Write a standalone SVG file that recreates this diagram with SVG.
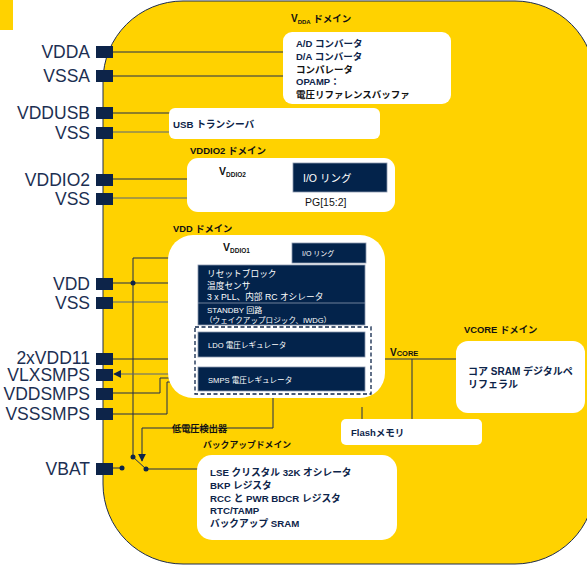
<svg xmlns="http://www.w3.org/2000/svg" width="587" height="565" viewBox="0 0 587 565">
<defs>
<style>
.pin{fill:#0d2449}
.plab{font-family:"Liberation Sans","Noto Sans CJK JP",sans-serif;font-size:17.5px;fill:#1c2f52;text-anchor:end}
.ln{stroke:#1e2d4f;stroke-width:1;fill:none}
.lg{stroke:#55647f;stroke-width:1;fill:none}
.wbox{fill:#ffffff}
.dbox{fill:#03234b;stroke:#8a97ad;stroke-width:0.8}
.b{font-family:"Liberation Sans","Noto Sans CJK JP",sans-serif;font-weight:bold;fill:#0d2449}
.t{font-family:"Liberation Sans","Noto Sans CJK JP",sans-serif;font-weight:bold;fill:#111111}
.w{font-family:"Liberation Sans","Noto Sans CJK JP",sans-serif;fill:#ffffff}
.dot{fill:#0d2449}
</style>
<marker id="ah" viewBox="0 0 10 10" refX="9" refY="5" markerWidth="8" markerHeight="8" markerUnits="userSpaceOnUse" orient="auto">
<path d="M0,0 L10,5 L0,10 z" fill="#0d2449"/>
</marker>
</defs>

<rect x="0" y="0" width="13" height="30" fill="#FFD200"/>

<g id="chip">
<rect x="103" y="1" width="492" height="563" rx="80" ry="80" fill="#FFD200" stroke="#1e2d4f" stroke-width="1"/>
</g>

<g id="connectors">
<line class="ln" x1="113" y1="52" x2="284" y2="52"/>
<line class="ln" x1="113" y1="76" x2="284" y2="76"/>
<line class="ln" x1="113" y1="113" x2="170" y2="113"/>
<line class="lg" x1="113" y1="132" x2="170" y2="132"/>
<line class="ln" x1="113" y1="179" x2="293" y2="179"/>
<line class="lg" x1="113" y1="198" x2="188" y2="198"/>
<line class="ln" x1="113" y1="283" x2="169" y2="283"/>
<line class="lg" x1="113" y1="302" x2="169" y2="302"/>
<polyline class="ln" points="292,258 133,258 133,457"/>
<line class="ln" x1="113" y1="359" x2="456" y2="359"/>
<line class="ln" x1="223" y1="357" x2="223" y2="359"/>
<line class="ln" x1="412" y1="359" x2="412" y2="420"/>
<line class="ln" x1="362" y1="407" x2="362" y2="420"/>
<line class="lg" x1="198" y1="374" x2="114" y2="374" marker-end="url(#ah)"/>
<polyline class="ln" points="198,378 160,378 160,393 113,393"/>
<polyline class="ln" points="198,382 167,382 167,414 113,414"/>
<polyline class="ln" points="273,394 273,428 142,428 142,461" marker-end="url(#ah)"/>
<line class="ln" x1="113" y1="468" x2="122" y2="468"/>
<line class="ln" x1="133" y1="457" x2="146" y2="469"/>
<line class="ln" x1="146" y1="469" x2="198" y2="469"/>
<circle class="dot" cx="133" cy="283" r="2.5"/>
<circle class="dot" cx="122" cy="468" r="2.5"/>
<circle class="dot" cx="133" cy="457" r="2.5"/>
<circle class="dot" cx="146" cy="469" r="2.5"/>
</g>

<g id="pins">
<rect class="pin" x="96" y="46" width="17" height="12"/><text class="plab" x="90" y="58">VDDA</text>
<rect class="pin" x="96" y="70" width="17" height="12"/><text class="plab" x="90" y="82">VSSA</text>
<rect class="pin" x="96" y="107" width="17" height="12"/><text class="plab" x="90" y="119">VDDUSB</text>
<rect class="pin" x="96" y="127" width="17" height="12"/><text class="plab" x="90" y="139">VSS</text>
<rect class="pin" x="96" y="174" width="17" height="12"/><text class="plab" x="90" y="186">VDDIO2</text>
<rect class="pin" x="96" y="193" width="17" height="12"/><text class="plab" x="90" y="205">VSS</text>
<rect class="pin" x="96" y="278" width="17" height="12"/><text class="plab" x="90" y="290">VDD</text>
<rect class="pin" x="96" y="297" width="17" height="12"/><text class="plab" x="90" y="309">VSS</text>
<rect class="pin" x="96" y="353" width="17" height="12"/><text class="plab" x="90" y="364">2xVDD11</text>
<rect class="pin" x="96" y="369" width="17" height="12"/><text class="plab" x="90" y="381">VLXSMPS</text>
<rect class="pin" x="96" y="388" width="17" height="12"/><text class="plab" x="90" y="400">VDDSMPS</text>
<rect class="pin" x="96" y="408" width="17" height="12"/><text class="plab" x="90" y="420">VSSSMPS</text>
<rect class="pin" x="96" y="463" width="17" height="12"/><text class="plab" x="90" y="475">VBAT</text>
</g>

<g id="vdda-domain">
<text class="t" x="291" y="22" font-size="10">V<tspan font-size="6" dy="2">DDA</tspan><tspan dy="-2" font-size="9.5"> ドメイン</tspan></text>
<rect class="wbox" x="283" y="32" width="168" height="72" rx="9"/>
<text class="b" x="296" y="46.5" font-size="9.5">A/D コンバータ</text>
<text class="b" x="296" y="59.5" font-size="9.5">D/A コンバータ</text>
<text class="t" x="296" y="72.5" font-size="9.5">コンパレータ</text>
<text class="b" x="296" y="84.5" font-size="9.5">OPAMP：</text>
<text class="t" x="296" y="97.5" font-size="9.5">電圧リファレンスバッファ</text>
</g>

<g id="usb">
<rect class="wbox" x="169" y="108" width="211" height="31" rx="6"/>
<text class="b" x="173" y="127.5" font-size="9.7">USB トランシーバ</text>
</g>

<g id="vddio2-domain">
<text class="t" x="190" y="154" font-size="9.5">VDDIO2 ドメイン</text>
<rect class="wbox" x="187" y="158" width="208" height="54" rx="11"/>
<text class="t" x="219" y="175" font-size="10.5">V<tspan font-size="6.5" dy="2">DDIO2</tspan></text>
<rect class="dbox" x="293" y="163" width="94" height="29"/>
<text class="w" x="303" y="182" font-size="10.5">I/O リング</text>
<text x="305" y="206" font-size="10.5" font-family="Liberation Sans, sans-serif" fill="#111">PG[15:2]</text>
</g>

<g id="vdd-domain">
<text class="t" x="173" y="232" font-size="9.3">VDD ドメイン</text>
<rect class="wbox" x="168" y="235" width="217" height="163" rx="25"/>
<text class="t" x="223" y="251" font-size="10.5">V<tspan font-size="6.5" dy="2">DDIO1</tspan></text>
<rect class="dbox" x="292" y="243" width="74" height="20"/>
<text class="w" x="302" y="256" font-size="7">I/O リング</text>
<rect class="dbox" x="198" y="265" width="167" height="60"/>
<line x1="198" y1="303" x2="365" y2="303" stroke="#8a97ad" stroke-width="0.8"/>
<text class="w" x="207" y="277" font-size="8.7">リセットブロック</text>
<text class="w" x="207" y="288.5" font-size="8.7">温度センサ</text>
<text class="w" x="207" y="300" font-size="8.7">3 x PLL、内部 RC オシレータ</text>
<text class="w" x="207" y="313" font-size="8">STANDBY 回路</text>
<text class="w" x="205" y="323" font-size="7.6">（ウェイクアップロジック、IWDG）</text>
<rect x="195" y="327" width="176" height="67" fill="none" stroke="#0d2449" stroke-width="1.3" stroke-dasharray="4 2.5"/>
<rect class="dbox" x="198" y="332" width="167" height="25"/>
<text class="w" x="208" y="347.5" font-size="7.6">LDO 電圧レギュレータ</text>
<rect class="dbox" x="198" y="367" width="167" height="24"/>
<text class="w" x="208" y="382.5" font-size="7.6">SMPS 電圧レギュレータ</text>
</g>

<g id="vcore-label">
<text class="t" x="390" y="356" font-size="10">V<tspan font-size="7.5">CORE</tspan></text>
</g>

<g id="vcore-domain">
<text class="t" x="464" y="333" font-size="9.4">VCORE ドメイン</text>
<rect class="wbox" x="456" y="341" width="129" height="72" rx="12"/>
<text class="b" x="468" y="374.5" font-size="10">コア SRAM デジタルペ</text>
<text class="b" x="468" y="388" font-size="10">リフェラル</text>
</g>

<g id="flash">
<rect class="wbox" x="341" y="419" width="141" height="26" rx="5"/>
<text class="b" x="351" y="436" font-size="9.5">Flashメモリ</text>
</g>

<g id="detector-label">
<text class="t" x="172" y="432" font-size="9.2">低電圧検出器</text>
</g>

<g id="backup-domain">
<text class="t" x="203" y="448" font-size="8.8">バックアップドメイン</text>
<rect class="wbox" x="197" y="455" width="200" height="85" rx="15"/>
<text class="b" x="210" y="475.5" font-size="9.7">LSE クリスタル 32K オシレータ</text>
<text class="b" x="210" y="488.5" font-size="9.7">BKP レジスタ</text>
<text class="b" x="210" y="501.5" font-size="9.7">RCC と PWR BDCR レジスタ</text>
<text class="b" x="210" y="513.5" font-size="9.7">RTC/TAMP</text>
<text class="b" x="210" y="526.5" font-size="9.7">バックアップ SRAM</text>
</g>
</svg>
